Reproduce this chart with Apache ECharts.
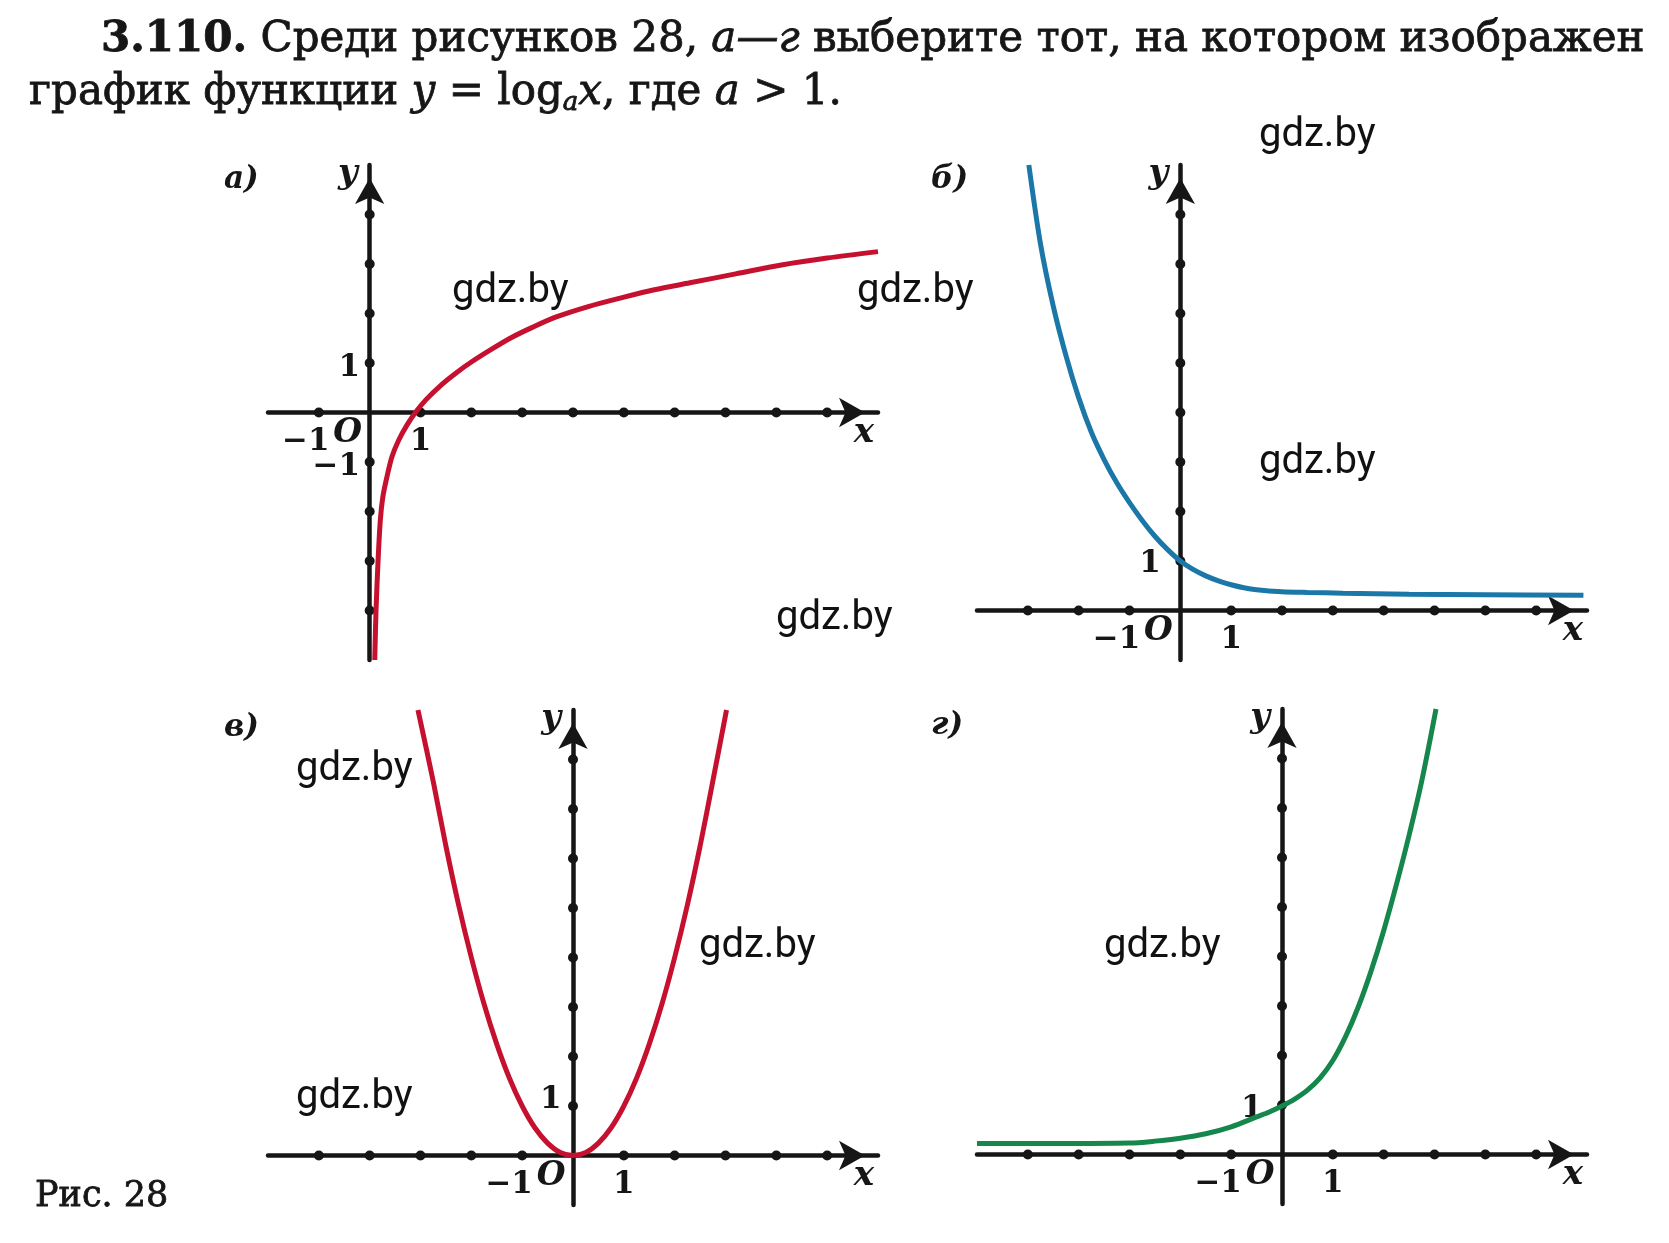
<!DOCTYPE html>
<html>
<head>
<meta charset="utf-8">
<title>Рис. 28</title>
<script src="https://cdn.jsdelivr.net/npm/echarts@6/dist/echarts.min.js"></script>
<style>
  html, body { margin: 0; padding: 0; background: #fff; }
  #chart { width: 1669px; height: 1243px; }
</style>
</head>
<body>
<div id="chart"></div>
<script>
// а) y = log_a x, a > 1
const logCurve = [[0.1, -5], [0.125, -4], [0.165, -3], [0.21, -2.17], [0.26, -1.7], [0.34, -1.3],
  [0.44, -0.89], [0.57, -0.56], [0.73, -0.26], [0.9, 0], [1.1, 0.25], [1.4, 0.55], [1.7, 0.8],
  [2.0, 1.02], [2.4, 1.28], [2.8, 1.52], [3.2, 1.72], [3.67, 1.93], [4.3, 2.14], [5.0, 2.33],
  [5.6, 2.48], [6.3, 2.62], [7.2, 2.8], [8.1, 2.98], [9.0, 3.12], [10, 3.25]]
const logDotsX = [-1, 1, 2, 3, 4, 5, 6, 7, 8, 9]
const logDotsY = [-4, -3, -2, -1, 1, 2, 3, 4]
const logLabelsX = [-1, 1]
const logLabelsY = [1, -1]

// б) decreasing exponent
const decCurve = [[-2.98, 9], [-2.75, 7.4], [-2.5, 6.15], [-2.25, 5.15], [-2.0, 4.3], [-1.75, 3.6],
  [-1.5, 3.05], [-1.25, 2.58], [-1.0, 2.18], [-0.75, 1.82], [-0.5, 1.5], [-0.25, 1.23], [0, 1],
  [0.25, 0.83], [0.5, 0.7], [0.75, 0.6], [1.0, 0.52], [1.25, 0.46], [1.5, 0.42], [2.0, 0.38],
  [2.5, 0.365], [3.2, 0.35], [4.5, 0.33], [6, 0.32], [7.93, 0.31]]
const decDotsX = [-3, -2, -1, 1, 2, 3, 4, 5, 6, 7]
const decDotsY = [1, 2, 3, 4, 5, 6, 7, 8]
const decLabelsX = [-1, 1]
const decLabelsY = [1]

// в) parabola
const parCurve = [[-3.05, 9], [-2.75, 7.56], [-2.5, 6.25], [-2.25, 5.06], [-2, 4], [-1.75, 3.06],
  [-1.5, 2.25], [-1.25, 1.56], [-1, 1], [-0.75, 0.56], [-0.5, 0.25], [-0.25, 0.06], [0, 0],
  [0.25, 0.06], [0.5, 0.25], [0.75, 0.56], [1, 1], [1.25, 1.56], [1.5, 2.25], [1.75, 3.06],
  [2, 4], [2.25, 5.06], [2.5, 6.25], [2.75, 7.56], [3.02, 9]]
const parDotsX = [-5, -4, -3, -2, -1, 1, 2, 3, 4, 5]
const parDotsY = [1, 2, 3, 4, 5, 6, 7, 8]
const parLabelsX = [-1, 1]
const parLabelsY = [1]

// г) increasing exponent
const incCurve = [[-6, 0.22], [-4.5, 0.22], [-3, 0.23], [-2.5, 0.27], [-2, 0.33], [-1.5, 0.42],
  [-1, 0.56], [-0.5, 0.76], [-0.25, 0.86], [0, 0.98], [0.25, 1.12], [0.5, 1.3], [0.75, 1.55],
  [1.0, 1.9], [1.25, 2.38], [1.5, 2.98], [1.75, 3.7], [2.0, 4.52], [2.25, 5.45], [2.5, 6.45],
  [2.75, 7.55], [3.03, 9]]
const incDotsX = [-5, -4, -3, -2, -1, 1, 2, 3, 4, 5]
const incDotsY = [1, 2, 3, 4, 5, 6, 7, 8]
const incLabelsX = [-1, 1]
const incLabelsY = [1]

const INK = '#161616'
const SERIF = '"DejaVu Serif", "Liberation Serif", serif'
const GRID_W = 610
const GRID_H = 495

const panels = [
  { letter: 'а)', curve: logCurve, dotsX: logDotsX, dotsY: logDotsY, labelsX: logLabelsX, labelsY: logLabelsY,
    color: '#c5112f', x: [-2, 10], y: [-5, 5], left: 268, top: 165, lx: 224, ly: 164, yGap: 9, yShift: 5 },
  { letter: 'б)', curve: decCurve, dotsX: decDotsX, dotsY: decDotsY, labelsX: decLabelsX, labelsY: decLabelsY,
    color: '#1a77a8', x: [-4, 8], y: [-1, 9], left: 977, top: 165, lx: 931, ly: 164, yGap: 19, yShift: 3 },
  { letter: 'в)', curve: parCurve, dotsX: parDotsX, dotsY: parDotsY, labelsX: parLabelsX, labelsY: parLabelsY,
    color: '#c5112f', x: [-6, 6], y: [-1, 9], left: 268, top: 710, lx: 224, ly: 712, yGap: 11, yShift: -6 },
  { letter: 'г)', curve: incCurve, dotsX: incDotsX, dotsY: incDotsY, labelsX: incLabelsX, labelsY: incLabelsY,
    color: '#15864c', x: [-6, 6], y: [-1, 9], left: 977, top: 709, lx: 931, ly: 710, yGap: 19, yShift: 4 }
]

const watermarks = [[1259, 136], [452, 292], [857, 292], [1259, 463], [776, 619],
  [296, 770], [699, 947], [296, 1098], [1104, 947]]

const chart = echarts.init(document.getElementById('chart'))

const axisLine = {
  onZero: true,
  symbol: ['none', 'arrow'],
  symbolSize: [22, 26],
  symbolOffset: [0, -13],
  lineStyle: { color: INK, width: 4.5 }
}

const num = v => (v < 0 ? '−' + Math.abs(v) : String(v))
const tickRich = {
  t: { fontFamily: SERIF, fontSize: 31, fontWeight: 'bold', color: INK },
  o: { fontFamily: SERIF, fontSize: 33, fontWeight: 'bold', fontStyle: 'italic', color: INK }
}
// scanned book type is heavier than DejaVu regular, so thicken it a little with an outline
const heavy = { stroke: INK, lineWidth: 0.8 }

const grid = [], xAxis = [], yAxis = [], series = [], graphic = []

panels.forEach((p, i) => {
  grid.push({ left: p.left, top: p.top, width: GRID_W, height: GRID_H, containLabel: false, outerBoundsMode: 'none' })

  xAxis.push({
    gridIndex: i, type: 'value', min: p.x[0], max: p.x[1], interval: 1,
    axisLine, axisTick: { show: false }, splitLine: { show: false }, axisLabel: { show: false },
    name: 'x', nameLocation: 'end', nameGap: -14,
    nameTextStyle: { fontFamily: SERIF, fontStyle: 'italic', fontWeight: 'bold', fontSize: 34, color: INK,
      align: 'center', verticalAlign: 'top', padding: [4, 0, 0, 0] }
  })

  yAxis.push({
    gridIndex: i, type: 'value', min: p.y[0], max: p.y[1], interval: 1,
    axisLine, axisTick: { show: false }, splitLine: { show: false }, axisLabel: { show: false },
    name: 'y', nameLocation: 'end', nameGap: -9,
    nameTextStyle: { fontFamily: SERIF, fontStyle: 'italic', fontWeight: 'bold', fontSize: 34, color: INK,
      align: 'right', verticalAlign: 'middle', padding: [0, 12, 0, 0] }
  })

  // tick dots
  series.push({
    type: 'scatter', xAxisIndex: i, yAxisIndex: i, silent: true, clip: false,
    symbolSize: 10, itemStyle: { color: INK, opacity: 1 },
    data: p.dotsX.map(v => [v, 0]).concat(p.dotsY.map(v => [0, v]))
  })

  // tick numbers and the origin letter, placed on the zero lines
  const labels = []
  p.labelsX.forEach(v => labels.push({
    value: [v, 0],
    label: { position: 'bottom', distance: 13, offset: [v < 0 ? -13 : 0, 0], formatter: `{t|${num(v)}}` }
  }))
  p.labelsY.forEach(v => labels.push({
    value: [0, v],
    label: { position: 'left', distance: p.yGap, offset: [0, p.yShift], formatter: `{t|${num(v)}}` }
  }))
  labels.push({
    value: [0, 0],
    label: { position: 'bottom', distance: 13, offset: [-22, -9], formatter: '{o|O}' }
  })
  series.push({
    type: 'scatter', xAxisIndex: i, yAxisIndex: i, silent: true, clip: false,
    symbolSize: 1, itemStyle: { color: 'rgba(0,0,0,0)', opacity: 1 },
    label: { show: true, color: INK, opacity: 1, rich: tickRich },
    data: labels
  })

  series.push({
    type: 'line', xAxisIndex: i, yAxisIndex: i, silent: true, clip: false,
    data: p.curve, smooth: 0.3, showSymbol: false,
    lineStyle: { color: p.color, width: 5 }
  })

  graphic.push({
    type: 'text', x: p.lx, y: p.ly,
    style: { text: p.letter, fill: INK, fontFamily: SERIF, fontStyle: 'italic', fontWeight: 'bold', fontSize: 31 }
  })
})

// problem text
graphic.push({
  type: 'text', x: 101, y: 40,
  style: {
    text: '{b|3.110.} Среди рисунков 28, {i|а—г} выберите тот, на котором изображен',
    fill: INK, ...heavy, fontFamily: SERIF, fontSize: 42, verticalAlign: 'middle',
    rich: {
      b: { fontFamily: SERIF, fontSize: 42, fontWeight: 'bold', fill: INK, ...heavy },
      i: { fontFamily: SERIF, fontSize: 42, fontStyle: 'italic', fill: INK, ...heavy }
    }
  }
})
graphic.push({
  type: 'text', x: 29, y: 93,
  style: {
    text: 'график функции {i|y} = log{s|a}{i|x}, где {i|a} > 1.',
    fill: INK, ...heavy, fontFamily: SERIF, fontSize: 42, lineHeight: 46, verticalAlign: 'middle',
    rich: {
      i: { fontFamily: SERIF, fontSize: 42, fontStyle: 'italic', lineHeight: 46, fill: INK, ...heavy },
      s: { fontFamily: SERIF, fontSize: 26, fontStyle: 'italic', lineHeight: 16, verticalAlign: 'bottom', fill: INK, ...heavy }
    }
  }
})
graphic.push({
  type: 'text', x: 35, y: 1197,
  style: { text: 'Рис. 28', fill: INK, ...heavy, fontFamily: SERIF, fontSize: 35, verticalAlign: 'middle' }
})

watermarks.forEach(([x, y]) => {
  graphic.push({
    type: 'text', x, y,
    style: { text: 'gdz.by', fill: '#111', fontFamily: 'Roboto, "Noto Sans", sans-serif', fontSize: 40, verticalAlign: 'middle' }
  })
})

chart.setOption({
  animation: false,
  backgroundColor: '#fff',
  grid, xAxis, yAxis, series, graphic
})
</script>
</body>
</html>
